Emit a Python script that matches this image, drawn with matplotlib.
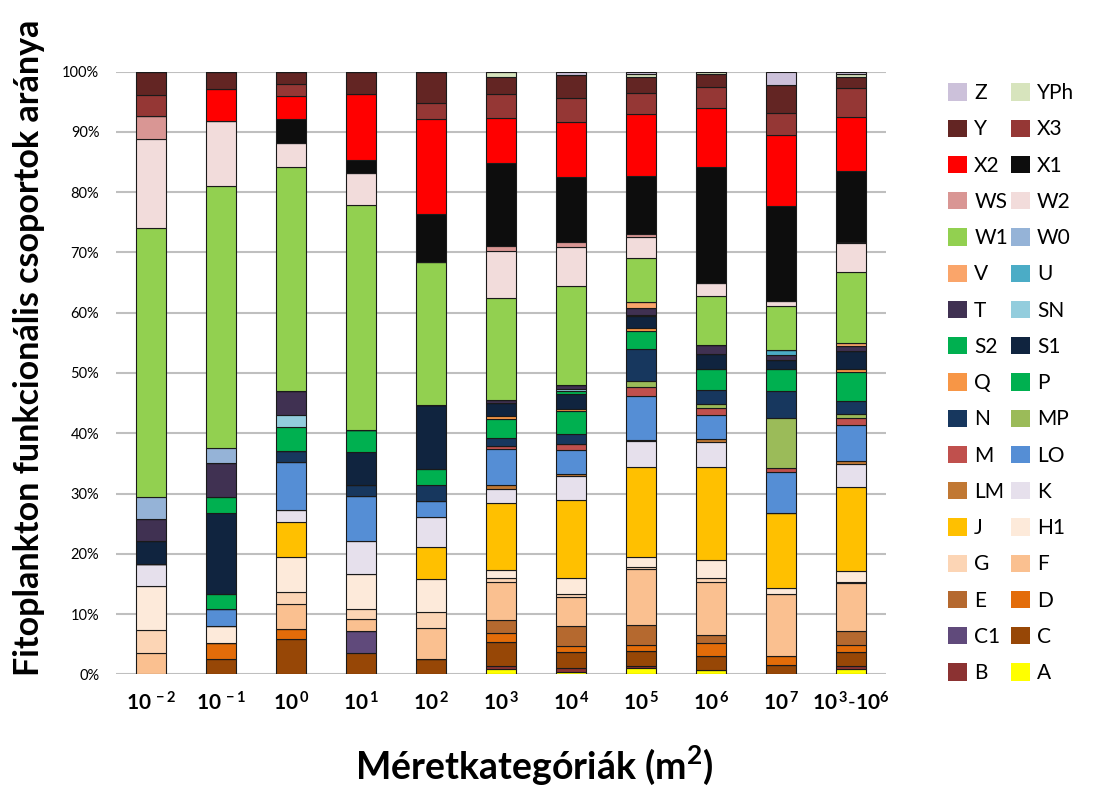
import matplotlib.pyplot as plt
from matplotlib.patches import Patch
import numpy as np

plt.rcParams['font.family'] = ['Lato', 'DejaVu Sans']
plt.rcParams['mathtext.fontset'] = 'custom'
plt.rcParams['mathtext.rm'] = 'Lato'
plt.rcParams['mathtext.bf'] = 'Lato:bold'

# size categories (x axis)
categories = [r"$\mathbf{10^{\,-2}}$", r"$\mathbf{10^{\,-1}}$", r"$\mathbf{10^{\,0}}$", r"$\mathbf{10^{\,1}}$",
              r"$\mathbf{10^{\,2}}$", r"$\mathbf{10^{\,3}}$", r"$\mathbf{10^{\,4}}$", r"$\mathbf{10^{\,5}}$",
              r"$\mathbf{10^{\,6}}$", r"$\mathbf{10^{\,7}}$", r"$\mathbf{10^{\,3}}$-$\mathbf{10^{6}}$"]

# functional groups, bottom to top of the stack
groups = ["A", "B", "C", "C1", "D", "E", "F", "G", "H1", "J", "K", "LM", "LO", "M", "MP", "N", "P", "Q",
          "S1", "S2", "SN", "T", "U", "V", "W0", "W1", "W2", "WS", "X1", "X2", "X3", "Y", "YPh", "Z"]

group_colors = ["#FFFF00", "#8B3232", "#974706", "#604A7B", "#E36C09", "#B5692F", "#FAC090", "#FCD5B5",
                "#FDEADA", "#FFC000", "#E6E0EC", "#C17833", "#558ED5", "#C0504D", "#9BBB59", "#17375E",
                "#00B050", "#F79646", "#10243F", "#00B050", "#93CDDD", "#403152", "#4BACC6", "#FAA56A",
                "#95B3D7", "#92D050", "#F2DCDB", "#D99694", "#0D0D0D", "#FF0000", "#953735", "#632523",
                "#D7E4BD", "#CCC1DA"]

# share of each group (%) per size category
bar_1e_2 = {"F": 3.5, "G": 3.85, "H1": 7.35, "K": 3.6, "S1": 3.8, "T": 3.6, "W0": 3.7, "W1": 44.6,
            "W2": 14.8, "WS": 3.85, "X3": 3.55, "Y": 3.8}
bar_1e_1 = {"C": 2.6, "D": 2.65, "H1": 2.8, "LO": 2.75, "P": 2.6, "S1": 13.45, "S2": 2.55, "T": 5.6,
            "W0": 2.6, "W1": 43.45, "W2": 10.85, "X2": 5.2, "Y": 2.9}
bar_1e0 = {"C": 5.8, "D": 1.8, "F": 4.05, "G": 1.95, "H1": 5.9, "J": 5.8, "K": 1.9, "LO": 7.95, "N": 1.95,
           "S2": 3.95, "SN": 1.95, "T": 4.0, "W1": 37.25, "W2": 3.95, "X1": 3.9, "X2": 3.9, "X3": 1.9, "Y": 2.1}
bar_1e1 = {"C": 3.5, "C1": 3.75, "F": 1.95, "G": 1.65, "H1": 5.75, "K": 5.5, "LO": 7.45, "N": 1.85,
           "S1": 5.5, "S2": 3.6, "W1": 37.3, "W2": 5.45, "X1": 2.1, "X2": 10.9, "Y": 3.75}
bar_1e2 = {"C": 2.6, "F": 5.15, "G": 2.65, "H1": 5.35, "J": 5.3, "K": 5.05, "LO": 2.7, "N": 2.6, "P": 2.6,
           "S1": 10.75, "W1": 23.6, "X1": 8.0, "X2": 15.75, "X3": 2.65, "Y": 5.25}
bar_1e3 = {"A": 0.9, "B": 0.5, "C": 4.0, "D": 1.4, "E": 2.2, "F": 6.35, "G": 0.55, "H1": 1.4, "J": 11.2,
           "K": 2.3, "LM": 0.6, "LO": 5.95, "M": 0.55, "N": 1.3, "P": 3.2, "Q": 0.4, "S1": 2.3, "T": 0.4,
           "W1": 17.0, "W2": 7.75, "WS": 0.9, "X1": 13.75, "X2": 7.35, "X3": 4.0, "Y": 2.8, "YPh": 0.95}
bar_1e4 = {"A": 0.45, "B": 0.55, "C": 2.75, "D": 0.95, "E": 3.35, "F": 4.85, "G": 0.5, "H1": 2.5,
           "J": 13.1, "K": 3.9, "LM": 0.4, "LO": 4.0, "M": 0.9, "N": 1.6, "P": 3.85, "Q": 0.45, "S1": 2.35,
           "S2": 0.5, "SN": 0.45, "T": 0.55, "W1": 16.55, "W2": 6.4, "WS": 0.9, "X1": 10.8, "X2": 9.1,
           "X3": 4.0, "Y": 3.75, "Z": 0.55}
bar_1e5 = {"A": 1.0, "B": 0.45, "C": 2.45, "D": 0.95, "E": 3.35, "F": 9.25, "G": 0.4, "H1": 1.65,
           "J": 14.9, "K": 4.35, "LM": 0.2, "LO": 7.25, "M": 1.4, "MP": 1.1, "N": 5.25, "P": 2.95, "Q": 0.5,
           "S1": 2.0, "SN": 0.3, "T": 1.1, "V": 0.9, "W1": 7.35, "W2": 3.6, "WS": 0.45, "X1": 9.65,
           "X2": 10.25, "X3": 3.4, "Y": 2.75, "YPh": 0.45, "Z": 0.4}
bar_1e6 = {"A": 0.7, "C": 2.35, "D": 2.2, "E": 1.35, "F": 8.75, "G": 0.55, "H1": 3.05, "J": 15.45,
           "K": 4.15, "LM": 0.45, "LO": 4.0, "M": 1.2, "MP": 0.7, "N": 2.2, "P": 3.55, "S1": 2.5, "T": 1.55,
           "W1": 8.1, "W2": 2.2, "X1": 19.15, "X2": 9.9, "X3": 3.45, "Y": 2.2, "YPh": 0.3}
bar_1e7 = {"C": 1.55, "D": 1.5, "F": 10.35, "H1": 0.85, "J": 12.45, "LO": 6.8, "M": 0.8, "MP": 8.15,
           "N": 4.55, "P": 3.65, "S1": 1.55, "T": 0.85, "U": 0.7, "W1": 7.4, "W2": 0.75, "X1": 15.8,
           "X2": 11.8, "X3": 3.7, "Y": 4.6, "Z": 2.2}
bar_1e3_1e6 = {"A": 0.85, "B": 0.55, "C": 2.35, "D": 1.1, "E": 2.35, "F": 7.9, "G": 0.25, "H1": 1.75,
               "J": 13.9, "K": 3.95, "LM": 0.45, "LO": 5.9, "M": 1.15, "MP": 0.8, "N": 2.1, "P": 4.85,
               "Q": 0.45, "S1": 2.95, "T": 0.9, "V": 0.45, "W1": 11.75, "W2": 4.85, "WS": 0.25,
               "X1": 11.75, "X2": 8.9, "X3": 4.9, "Y": 1.8, "YPh": 0.45, "Z": 0.4}

bars = [bar_1e_2, bar_1e_1, bar_1e0, bar_1e1, bar_1e2, bar_1e3, bar_1e4, bar_1e5, bar_1e6, bar_1e7, bar_1e3_1e6]

# matrix: rows = groups, cols = categories, normalised to 100 %
values = np.array([[b.get(g, 0.0) for b in bars] for g in groups])
values = values / values.sum(axis=0) * 100

fig = plt.figure(figsize=(11.07, 7.87), dpi=100)
ax = fig.add_axes([0.1048, 0.1432, 0.6956, 0.7657])

x = np.arange(len(categories))
bottom = np.zeros(len(categories))
for i, g in enumerate(groups):
    ax.bar(x, values[i], 0.42, bottom=bottom, color=group_colors[i], edgecolor="#1a1a1a", linewidth=0.8,
           zorder=3)
    bottom += values[i]

ax.set_xlim(-0.5, len(categories) - 0.5)
ax.set_ylim(0, 100)
ax.set_yticks(range(0, 101, 10))
ax.set_yticklabels([f"{v}%" for v in range(0, 101, 10)], fontsize=10.5)
ax.set_xticks(x)
ax.set_xticklabels(categories, fontsize=15)
ax.tick_params(axis="both", length=0)
ax.tick_params(axis="x", pad=12)
ax.tick_params(axis="y", pad=12)
ax.yaxis.grid(True, color="#BFBFBF", linewidth=1.5)
ax.set_axisbelow(True)
for s in ax.spines.values():
    s.set_visible(False)

fig.text(0.026, 0.558, "Fitoplankton funkcionális csoportok aránya", rotation=90, ha="center", va="center",
         fontsize=24.5, fontweight="bold")
fig.text(0.483, 0.028, "Méretkategóriák (m$^{\\mathbf{2}}$)", ha="center", va="center", fontsize=27,
         fontweight="bold")

# legend: two columns, filled row by row from the top of the stack
handles = [Patch(facecolor=c, edgecolor="none") for c in group_colors][::-1]
labels = groups[::-1]
order = list(range(0, len(labels), 2)) + list(range(1, len(labels), 2))
fig.legend([handles[i] for i in order], [labels[i] for i in order], ncol=2, loc="upper left",
           bbox_to_anchor=(0.849, 0.905), frameon=False, fontsize=15, handlelength=0.9, handleheight=0.9,
           handletextpad=0.35, labelspacing=0.78, columnspacing=0.15, borderaxespad=0)

plt.savefig("out.png", dpi=100)
